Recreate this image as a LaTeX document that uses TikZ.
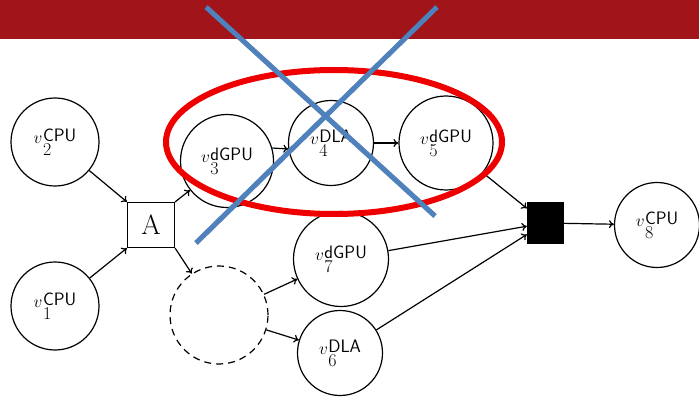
\documentclass[tikz,border=0pt]{standalone}
\usetikzlibrary{arrows.meta}
\definecolor{bannerred}{RGB}{161,20,26}
\definecolor{ringred}{RGB}{238,0,0}
\definecolor{crossblue}{RGB}{79,129,189}
% task label: v with a processor type above and an index below
\newcommand{\vlab}[2]{$v$\kern0.5pt\rlap{\raisebox{-12pt}{#1}}\raisebox{2pt}{\sffamily #2}}
\begin{document}
\begin{tikzpicture}[x=1pt,y=-1pt,
  task/.style={circle,draw,line width=1.2pt,minimum size=#1pt,inner sep=0pt,
    font=\fontsize{18}{20}\selectfont},
  ghost/.style={circle,draw,line width=1.2pt,dash pattern=on 7pt off 5pt,
    minimum size=#1pt,inner sep=0pt},
  joinbox/.style={draw,line width=1.2pt,minimum width=47pt,minimum height=45pt,
    inner sep=0pt,font=\fontsize{28}{30}\selectfont},
  syncbox/.style={draw,fill=black,minimum width=36pt,minimum height=41pt,inner sep=0pt},
  flow/.style={line width=1.2pt,-{To[length=5pt,width=8pt]}},
  crossline/.style={crossblue,line width=5pt},
  crossshade/.style={black,opacity=0.25,line width=5pt}]
\useasboundingbox (0,0) rectangle (699,398);

% title banner
\fill[bannerred] (0,0) rectangle (699,39);

% task nodes
\node[task=88] (v2) at (55,142) {\vlab{2}{CPU}};
\node[task=88] (v1) at (55,306) {\vlab{1}{CPU}};
\node[joinbox] (A) at (151,225) {A};
\node[task=93] (v3) at (227,161) {\vlab{3}{dGPU}};
\node[task=85] (v4) at (331,143) {\vlab{4}{DLA}};
\node[task=94] (v5) at (446,143) {\vlab{5}{dGPU}};
\node[ghost=98] (dash) at (219,315) {};
\node[task=95] (v7) at (341,259) {\vlab{7}{dGPU}};
\node[task=85] (v6) at (340,353) {\vlab{6}{DLA}};
\node[syncbox] (S) at (545,223) {};
\node[task=85] (v8) at (657,225) {\vlab{8}{CPU}};

% dependencies
\draw[flow] (v2) -- (A.north west);
\draw[flow] (v1) -- (A.south west);
\draw[flow] (A.north east) -- (v3);
\draw[flow] (A.south east) -- (dash);
\draw[flow] (v3.16) -- (v4.188);
\draw[flow] (v4) -- (v5);
\draw[flow] (dash) -- (v7);
\draw[flow] (dash) -- (v6);
\draw[flow] (v5) -- (S);
\draw[flow] (v7) -- (S);
\draw[flow] (v6) -- (S);
\draw[flow] (S) -- (v8);

% ring around the upper chain
\draw[ringred,line width=6pt] (334,142) ellipse [x radius=168,y radius=72];

% strike-through cross
\coordinate (xa) at (206,7);
\coordinate (xb) at (435,216);
\coordinate (xc) at (437,7);
\coordinate (xd) at (196,243);
\begin{scope}[shift={(2,2)}]
  \draw[crossshade] (xa) -- (xb);
  \draw[crossshade] (xc) -- (xd);
\end{scope}
\draw[crossline] (xa) -- (xb);
\draw[crossline] (xc) -- (xd);
\end{tikzpicture}
\end{document}
